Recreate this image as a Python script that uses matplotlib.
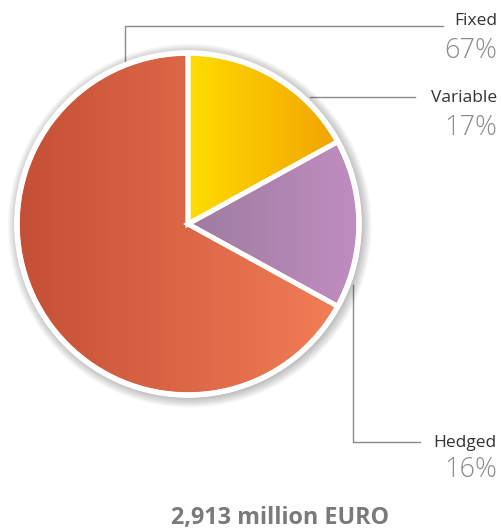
import matplotlib
matplotlib.use('Agg')
import numpy as np
import matplotlib.pyplot as plt
from matplotlib.colors import LinearSegmentedColormap
from matplotlib.patches import Circle

plt.rcParams['font.family'] = ['Open Sans', 'DejaVu Sans']

# data (clockwise from 12 o'clock)
labels = ['Variable', 'Hedged', 'Fixed']
shares = [17, 16, 67]
pct_labels = ['17%', '16%', '67%']
total_label = '2,913 million EURO'

# left -> right gradient colours per slice
grad_colors = [('#ffdc00', '#f2a300'),
               ('#9d7c9f', '#c08dc0'),
               ('#c44f36', '#f27d56')]

W, H = 501, 530
fig = plt.figure(figsize=(W / 100, H / 100), dpi=100)

# overlay axes in pixel coordinates for leader lines and text
ov = fig.add_axes([0, 0, 1, 1])
ov.set_xlim(0, W)
ov.set_ylim(H, 0)
ov.axis('off')

# pie axes
cx, cy, r = 188, 224, 171
lim = 1.25
side = r * lim
ax = fig.add_axes([(cx - side) / W, (H - cy - side) / H, 2 * side / W, 2 * side / H])

# soft shadow
for k in range(10):
    ax.add_patch(Circle((0.01, -0.01), 1.0 + 0.007 * k, facecolor='#000000',
                        alpha=0.03, edgecolor='none', zorder=0))

wedges, _ = ax.pie(shares, startangle=90, counterclock=False, radius=1.0,
                   wedgeprops=dict(facecolor='none', edgecolor='white', linewidth=3.5))
grad = np.linspace(0, 1, 256).reshape(1, -1)
for w, (c0, c1) in zip(wedges, grad_colors):
    w.set_zorder(3)
    bb = w.get_path().get_extents()
    cmap = LinearSegmentedColormap.from_list('g', [c0, c1])
    im = ax.imshow(grad, cmap=cmap, aspect='auto', zorder=2,
                   extent=(bb.x0, bb.x1, bb.y0, bb.y1), interpolation='bilinear')
    im.set_clip_path(w)
ax.add_patch(Circle((0, 0), 1.0, facecolor='none', edgecolor='white', lw=4, zorder=4))
ax.set_xlim(-lim, lim)
ax.set_ylim(-lim, lim)
ax.set_aspect('auto')
ax.axis('off')

line_kw = dict(color='#8a8a8a', lw=1.0)
# Fixed
ov.plot([125, 125, 443], [62, 26, 26], **line_kw)
# Variable
ov.plot([310, 415], [97, 97], **line_kw)
# Hedged
ov.plot([353, 353, 420], [285, 442, 442], **line_kw)

name_pos = {'Fixed': 21, 'Variable': 98, 'Hedged': 443}
pct_pos = {'Fixed': 51, 'Variable': 128, 'Hedged': 470}
for lab, pct in zip(labels, pct_labels):
    ov.text(497, name_pos[lab], lab, ha='right', va='center', fontsize=12.5,
            color='#333333')
    ov.text(497, pct_pos[lab], pct, ha='right', va='center', fontsize=19.5,
            color='#8c8c8c', fontweight='light')

ov.text(280, 518, total_label, ha='center', va='center', fontsize=16.8,
        fontweight='bold', color='#7a7a7a')

fig.savefig('out.png', dpi=100)
